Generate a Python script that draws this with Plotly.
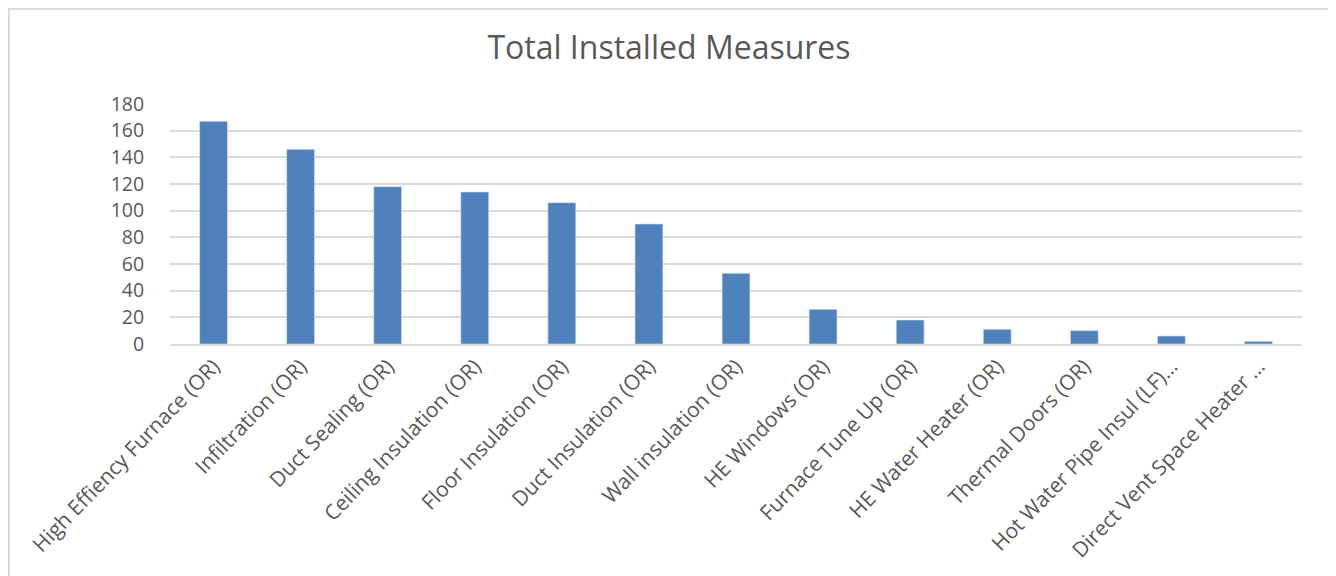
import plotly.graph_objects as go

categories = [
    "High Effiency Furnace (OR)",
    "Infiltration (OR)",
    "Duct Sealing (OR)",
    "Ceiling Insulation (OR)",
    "Floor Insulation (OR)",
    "Duct Insulation (OR)",
    "Wall insulation (OR)",
    "HE Windows (OR)",
    "Furnace Tune Up (OR)",
    "HE Water Heater (OR)",
    "Thermal Doors (OR)",
    "Hot Water Pipe Insul (LF)…",
    "Direct Vent Space Heater …",
]
values = [167, 146, 118, 114, 106, 90, 53, 26, 18, 11, 10, 6, 2]
y_ticks = [0, 20, 40, 60, 80, 100, 120, 140, 160, 180]

TEXT = "#595959"
GRID = "#D9D9D9"

# page body has an 8px margin; figure drawn at (8, 8)
W, H = 1328, 568
L, R, T, B = 162, 34, 96, 232
PW = W - L - R
PH = H - T - B

def px_x(px):
    return (px - L) / PW

def px_y(py):
    return (T + PH - py) / PH

fig = go.Figure()
fig.add_trace(go.Bar(
    x=categories, y=values,
    marker=dict(color="#4F81BD", line=dict(color="#DCE6F2", width=0.6)),
    hoverinfo="x+y",
))

fig.update_layout(
    width=W, height=H,
    margin=dict(l=L, r=R, t=T, b=B),
    paper_bgcolor="white", plot_bgcolor="white",
    bargap=0.68,
    showlegend=False,
    font=dict(family="Open Sans", color=TEXT),
    title=dict(text="Total Installed Measures", x=(669 - 8) / W, xanchor="center",
               y=1 - 40 / H, yanchor="middle",
               font=dict(family="Open Sans", size=32, color=TEXT)),
    xaxis=dict(tickangle=-46, tickfont=dict(size=21, color=TEXT),
               showgrid=False, showline=True, linecolor=GRID, linewidth=1.5,
               ticks="", automargin=False),
    yaxis=dict(range=[0, 180], tickvals=y_ticks, showgrid=True, gridcolor=GRID,
               gridwidth=1.5, zeroline=False, showline=False,
               tickfont=dict(size=19.5, color=TEXT), ticklen=21, ticks="outside",
               tickcolor="rgba(0,0,0,0)", automargin=False),
    shapes=[dict(type="rect", xref="paper", yref="paper",
                 x0=px_x(1), x1=px_x(1322),
                 y0=px_y(H + 20), y1=px_y(1),
                 line=dict(color="#D9D9D9", width=2), layer="above")],
)

fig.write_html("out.html")
